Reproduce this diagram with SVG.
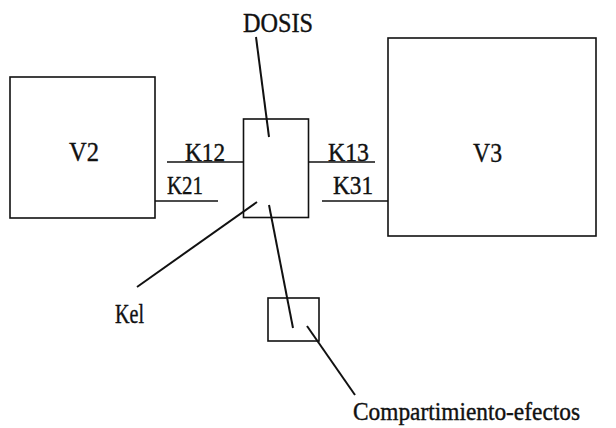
<svg xmlns="http://www.w3.org/2000/svg" width="616" height="428" viewBox="0 0 616 428">
<style>
.box{fill:none;stroke:#111;stroke-width:1.6}
.ln{fill:none;stroke:#111;stroke-width:1.6}
.ld{fill:none;stroke:#111;stroke-width:2}
text{font-family:"Liberation Serif","Times New Roman",serif;fill:#111;stroke:#111;stroke-width:0.4}
.big{font-size:28px}
.k{font-size:26px}
.c{font-size:26px}
</style>
<rect width="616" height="428" fill="#fff"/>
<g id="V2"><rect class="box" x="10" y="77" width="145" height="141"/><text class="big" x="69" y="161" textLength="30" lengthAdjust="spacingAndGlyphs">V2</text></g>
<g id="central"><rect class="box" x="243.5" y="119" width="65" height="98.5"/></g>
<g id="V3"><rect class="box" x="388" y="38" width="208" height="198"/><text class="big" x="473" y="162" textLength="29" lengthAdjust="spacingAndGlyphs">V3</text></g>
<g id="efectos"><rect class="box" x="268" y="298" width="51" height="43"/></g>
<g id="DOSIS"><text class="big" x="243" y="32" textLength="70" lengthAdjust="spacingAndGlyphs">DOSIS</text></g>
<g id="Kel"><text class="big" x="115" y="323" textLength="29" lengthAdjust="spacingAndGlyphs">Kel</text></g>
<g id="Compartimiento-efectos"><text class="c" x="353" y="420" textLength="227" lengthAdjust="spacingAndGlyphs">Compartimiento-efectos</text></g>
<g id="connectors">
<line class="ln" x1="167" y1="162" x2="243.5" y2="162"/>
<line class="ln" x1="155" y1="201" x2="218" y2="201"/>
<line class="ln" x1="308.5" y1="162" x2="375" y2="162"/>
<line class="ln" x1="322" y1="201" x2="388" y2="201"/>
<line class="ld" x1="256" y1="37" x2="269" y2="137"/>
<line class="ld" x1="257" y1="202" x2="137" y2="287"/>
<line class="ld" x1="269" y1="205" x2="293" y2="328"/>
<line class="ld" x1="307" y1="326" x2="355" y2="395"/>
<text class="k" x="185" y="161" textLength="40" lengthAdjust="spacingAndGlyphs">K12</text>
<text class="k" x="167" y="194" textLength="36" lengthAdjust="spacingAndGlyphs">K21</text>
<text class="k" x="328" y="161" textLength="41" lengthAdjust="spacingAndGlyphs">K13</text>
<text class="k" x="333" y="194" textLength="40" lengthAdjust="spacingAndGlyphs">K31</text>
</g>
</svg>
